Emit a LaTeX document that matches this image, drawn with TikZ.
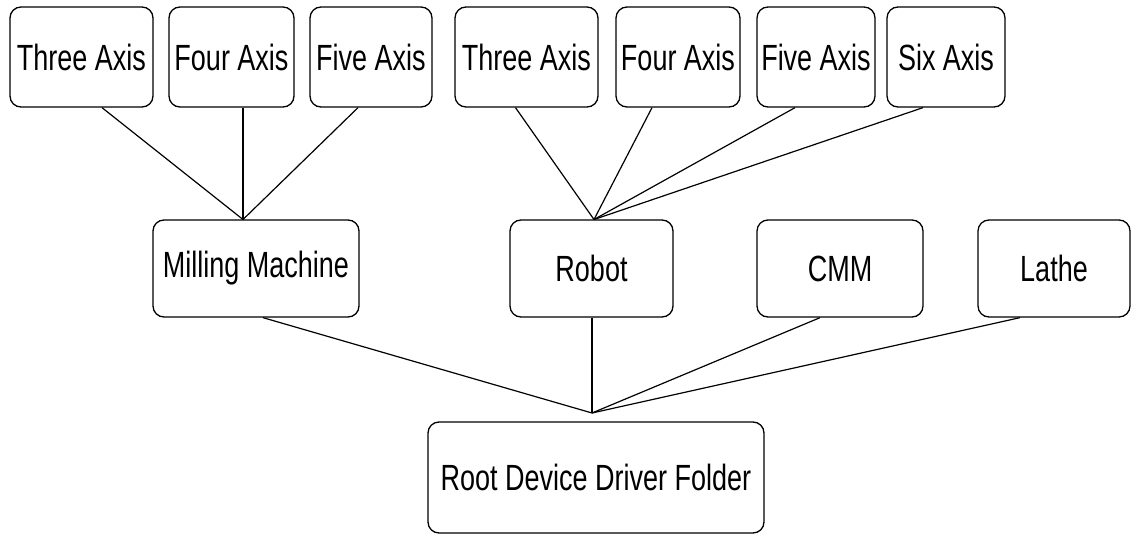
\documentclass[tikz,border=0pt]{standalone}
\usepackage{graphicx}
\usepackage{fontspec}
\setmainfont{Liberation Sans}
\newcommand{\stretchtxt}[1]{\scalebox{1}[1.35]{#1}}
\tikzset{
  box/.style={draw, line width=1.3pt, rounded corners=11pt, inner sep=0pt,
    font=\fontsize{27}{27}\selectfont, anchor=center},
  link/.style={line width=1.2pt}
}
\begin{document}
\begin{tikzpicture}[x=1pt,y=-1pt]
\useasboundingbox (0,0) rectangle (1142,535);
% top row
\node[box, minimum width=143pt, minimum height=100pt] (L3) at (81.5,57) {\stretchtxt{Three Axis}};
\node[box, minimum width=125pt, minimum height=100pt] (L4) at (231.5,57) {\stretchtxt{Four Axis}};
\node[box, minimum width=122pt, minimum height=100pt] (L5) at (371,57) {\stretchtxt{Five Axis}};
\node[box, minimum width=143pt, minimum height=100pt] (R3) at (526.5,57) {\stretchtxt{Three Axis}};
\node[box, minimum width=124pt, minimum height=100pt] (R4) at (678,57) {\stretchtxt{Four Axis}};
\node[box, minimum width=118pt, minimum height=100pt] (R5) at (816,57) {\stretchtxt{Five Axis}};
\node[box, minimum width=118pt, minimum height=100pt] (R6) at (946,57) {\stretchtxt{Six Axis}};
% middle row
\node[box, minimum width=206pt, minimum height=97pt] (mill) at (256,268.5) {\stretchtxt{Milling Machine}};
\node[box, minimum width=163pt, minimum height=97pt] (robot) at (591.5,268.5) {\stretchtxt{Robot}};
\node[box, minimum width=166pt, minimum height=97pt] (cmm) at (840,268.5) {\stretchtxt{CMM}};
\node[box, minimum width=152pt, minimum height=97pt] (lathe) at (1054,268.5) {\stretchtxt{Lathe}};
% root
\node[box, minimum width=336pt, minimum height=111pt] (root) at (596,477.5) {\stretchtxt{Root Device Driver Folder}};
% junctions
\coordinate (jm) at (243,219.5);
\coordinate (jr) at (594,219.5);
\coordinate (jb) at (592,413);
% connectors
\draw[link] ([xshift=20.5pt]L3.south) -- (jm);
\draw[link] ([xshift=11.5pt]L4.south) -- (jm);
\draw[link] ([xshift=-13pt]L5.south) -- (jm);
\draw[link] ([xshift=-11pt]R3.south) -- (jr);
\draw[link] ([xshift=-26pt]R4.south) -- (jr);
\draw[link] ([xshift=-21pt]R5.south) -- (jr);
\draw[link] ([xshift=-23pt]R6.south) -- (jr);
\draw[link] ([xshift=7pt]mill.south) -- (jb);
\draw[link] ([xshift=0.5pt]robot.south) -- (jb);
\draw[link] ([xshift=-20pt]cmm.south) -- (jb);
\draw[link] ([xshift=-34pt]lathe.south) -- (jb);
\end{tikzpicture}
\end{document}
